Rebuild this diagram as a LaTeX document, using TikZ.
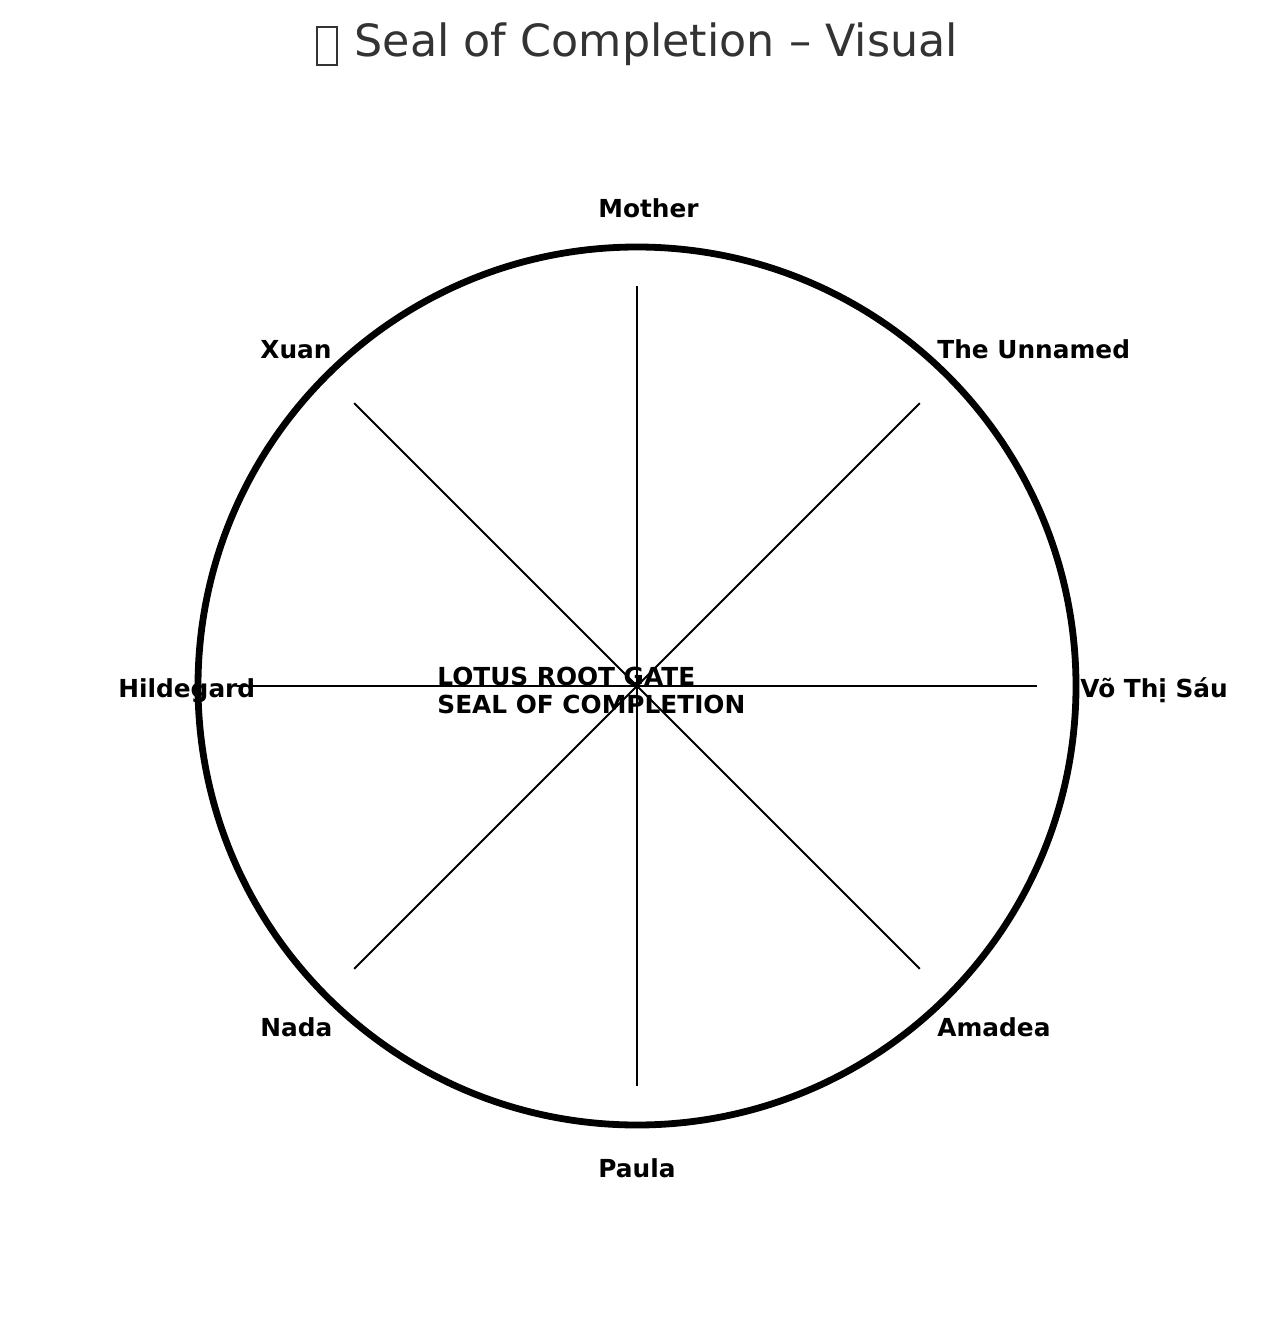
\documentclass[tikz,border=0pt]{standalone}
\usepackage{fontspec}
\setmainfont{DejaVu Sans}
\usetikzlibrary{calc}
\newcommand\tofuglyph{\raisebox{-0.16em}{\setlength{\fboxsep}{0pt}\setlength{\fboxrule}{1pt}\fbox{\rule{0pt}{0.82em}\hspace{0.40em}}}}
\definecolor{titlegrey}{HTML}{333333}
\begin{document}
\begin{tikzpicture}[x=0.5pt,y=-0.5pt,
  lbl/.style={anchor=base west,inner sep=0pt,font=\bfseries\fontsize{12.4}{14}\selectfont,text=black},
  spoke/.style={line width=1pt,black},
  ring/.style={line width=3.4pt,black}]
\useasboundingbox (0,0) rectangle (1272,1322);
\fill[white] (0,0) rectangle (1272,1322);
\node[anchor=base,inner sep=0pt,text=titlegrey,font=\fontsize{22.2}{26}\selectfont] (title) at (637,57) {\tofuglyph\hspace{0.06em} Seal of Completion – Visual};
\coordinate (c) at (637,686);
\draw[ring] (c) circle[radius=439];
\foreach \a/\n in {0/e,45/ne,90/n,135/nw,180/w,225/sw,270/s,315/se}{
  \coordinate (sp\n) at ($(c)+(\a:400)$);
  \draw[spoke] (c) -- (sp\n);
}
\node[lbl,align=left] (centre) at (437,713) {LOTUS ROOT GATE\\SEAL OF COMPLETION};
\node[lbl] (mother) at (598,217) {Mother};
\node[lbl] (unnamed) at (937,358) {The Unnamed};
\node[lbl] (vo) at (1080,697) {Võ Thị Sáu};
\node[lbl] (amadea) at (937,1036) {Amadea};
\node[lbl] (paula) at (598,1177) {Paula};
\node[lbl] (nada) at (260,1036) {Nada};
\node[lbl] (hildegard) at (118,697) {Hildegard};
\node[lbl] (xuan) at (260,358) {Xuan};
\end{tikzpicture}
\end{document}
